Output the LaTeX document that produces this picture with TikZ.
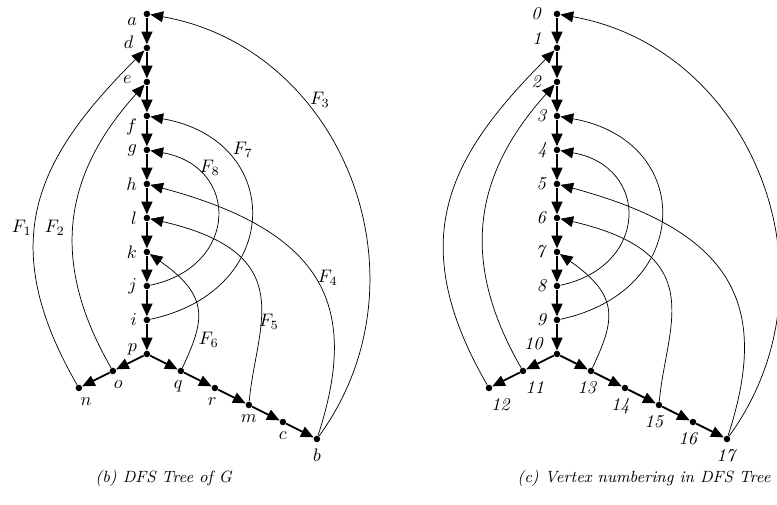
\documentclass[tikz,border=0pt]{standalone}
\usetikzlibrary{arrows.meta}

\tikzset{
  vtx/.style={circle,fill=black,inner sep=0pt,minimum size=3.6pt},
  tedge/.style={line width=1pt,-{Triangle[length=7pt,width=6pt]}},
  fedge/.style={thin,-{Triangle[length=7pt,width=6pt]}},
}

\begin{document}
\begin{tikzpicture}[x=0.66cm,y=0.66cm]
  \useasboundingbox (-4.32,-4.44) rectangle (18.53,10.41);

  % (b) DFS tree of G
  \node[vtx,label={[yshift=-4pt]left:$a$}] (a) at (0,10) {};
  \node[vtx,label={[xshift=-2pt,yshift=3pt]left:$d$}] (d) at (0,9) {};
  \node[vtx,label={[xshift=-3pt,yshift=1.5pt]left:$e$}] (e) at (0,8) {};
  \node[vtx,label={[yshift=-6pt]left:$f$}] (f) at (0,7) {};
  \node[vtx,label=left:$g$] (g) at (0,6) {};
  \node[vtx,label=left:$h$] (h) at (0,5) {};
  \node[vtx,label=left:$l$] (l) at (0,4) {};
  \node[vtx,label=left:$k$] (k) at (0,3) {};
  \node[vtx,label=left:$j$] (j) at (0,2) {};
  \node[vtx,label=left:$i$] (i) at (0,1) {};
  \node[vtx,label={[yshift=2.5pt]left:$p$}] (p) at (0,0) {};
  \node[vtx,label={[xshift=3pt]below:$o$}] (o) at (-1,-0.5) {};
  \node[vtx,label={[xshift=4pt]below:$n$}] (n) at (-2,-1) {};
  \node[vtx,label={[xshift=-1.5pt]below:$q$}] (q) at (1,-0.5) {};
  \node[vtx,label={[xshift=-1.5pt]below:$r$}] (r) at (2,-1) {};
  \node[vtx,label=below:$m$] (m) at (3,-1.5) {};
  \node[vtx,label=below:$c$] (c) at (4,-2) {};
  \node[vtx,label=below:$b$] (b) at (5,-2.5) {};

  \draw[tedge] (a) -- (d);
  \draw[tedge] (d) -- (e);
  \draw[tedge] (e) -- (f);
  \draw[tedge] (f) -- (g);
  \draw[tedge] (g) -- (h);
  \draw[tedge] (h) -- (l);
  \draw[tedge] (l) -- (k);
  \draw[tedge] (k) -- (j);
  \draw[tedge] (j) -- (i);
  \draw[tedge] (i) -- (p);
  \draw[tedge] (p) -- (o);
  \draw[tedge] (o) -- (n);
  \draw[tedge] (p) -- (q);
  \draw[tedge] (q) -- (r);
  \draw[tedge] (r) -- (m);
  \draw[tedge] (m) -- (c);
  \draw[tedge] (c) -- (b);

  % fronds
  \draw[fedge] (n) to[out=120,in=225,out looseness=1.25,in looseness=1.13] (d);
  \draw[fedge] (o) to[out=120,in=228,out looseness=1.13,in looseness=1.07] (e);
  \draw[fedge] (b) to[out=54,in=-10,looseness=1.1] (a);
  \draw[fedge] (b) to[out=72,in=-15,out looseness=1.13,in looseness=1.56] (h);
  \draw[fedge] (m) to[out=85,in=-13,out looseness=0.94,in looseness=1.92] (l);
  \draw[fedge] (q) to[out=65,in=-35,out looseness=1.12,in looseness=1.61] (k);
  \draw[fedge] (i) to[out=12,in=-10,looseness=1.73] (f);
  \draw[fedge] (j) to[out=12,in=-10,looseness=1.73] (g);

  \node at (-3.68,3.71) {$F_1$};
  \node at (-2.71,3.71) {$F_2$};
  \node at (5.09,7.47) {$F_3$};
  \node at (5.32,2.24) {$F_4$};
  \node at (3.59,0.94) {$F_5$};
  \node at (1.82,0.41) {$F_6$};
  \node at (2.82,6.0) {$F_7$};
  \node at (1.85,5.47) {$F_8$};

  % (c) vertex numbering
  \begin{scope}[shift={(12.06,0)}]
    \node[vtx,label={[xshift=-3pt]left:\textit{0}}] (v0) at (0,10) {};
    \node[vtx,label={[xshift=-3pt,yshift=5pt]left:\textit{1}}] (v1) at (0,9) {};
    \node[vtx,label={[xshift=-3pt]left:\textit{2}}] (v2) at (0,8) {};
    \node[vtx,label=left:\textit{3}] (v3) at (0,7) {};
    \node[vtx,label=left:\textit{4}] (v4) at (0,6) {};
    \node[vtx,label=left:\textit{5}] (v5) at (0,5) {};
    \node[vtx,label=left:\textit{6}] (v6) at (0,4) {};
    \node[vtx,label=left:\textit{7}] (v7) at (0,3) {};
    \node[vtx,label=left:\textit{8}] (v8) at (0,2) {};
    \node[vtx,label=left:\textit{9}] (v9) at (0,1) {};
    \node[vtx,label={[xshift=-2pt,yshift=5.5pt]left:\textit{10}}] (v10) at (0,0) {};
    \node[vtx,label={[xshift=6.5pt]below:\textit{11}}] (v11) at (-1,-0.5) {};
    \node[vtx,label={[xshift=6.5pt]below:\textit{12}}] (v12) at (-2,-1) {};
    \node[vtx,label={[xshift=-2pt]below:\textit{13}}] (v13) at (1,-0.5) {};
    \node[vtx,label={[xshift=-2.5pt]below:\textit{14}}] (v14) at (2,-1) {};
    \node[vtx,label={[xshift=-2.5pt]below:\textit{15}}] (v15) at (3,-1.5) {};
    \node[vtx,label={[xshift=-2.5pt]below:\textit{16}}] (v16) at (4,-2) {};
    \node[vtx,label=below:\textit{17}] (v17) at (5,-2.5) {};

    \draw[tedge] (v0) -- (v1);
    \draw[tedge] (v1) -- (v2);
    \draw[tedge] (v2) -- (v3);
    \draw[tedge] (v3) -- (v4);
    \draw[tedge] (v4) -- (v5);
    \draw[tedge] (v5) -- (v6);
    \draw[tedge] (v6) -- (v7);
    \draw[tedge] (v7) -- (v8);
    \draw[tedge] (v8) -- (v9);
    \draw[tedge] (v9) -- (v10);
    \draw[tedge] (v10) -- (v11);
    \draw[tedge] (v11) -- (v12);
    \draw[tedge] (v10) -- (v13);
    \draw[tedge] (v13) -- (v14);
    \draw[tedge] (v14) -- (v15);
    \draw[tedge] (v15) -- (v16);
    \draw[tedge] (v16) -- (v17);

    \draw[fedge] (v12) to[out=120,in=225,out looseness=1.25,in looseness=1.13] (v1);
    \draw[fedge] (v11) to[out=120,in=228,out looseness=1.13,in looseness=1.07] (v2);
    \draw[fedge] (v17) to[out=54,in=-10,looseness=1.1] (v0);
    \draw[fedge] (v17) to[out=72,in=-15,out looseness=1.13,in looseness=1.56] (v5);
    \draw[fedge] (v15) to[out=85,in=-13,out looseness=0.94,in looseness=1.92] (v6);
    \draw[fedge] (v13) to[out=65,in=-35,out looseness=1.12,in looseness=1.61] (v7);
    \draw[fedge] (v9) to[out=12,in=-10,looseness=1.73] (v3);
    \draw[fedge] (v8) to[out=12,in=-10,looseness=1.73] (v4);
  \end{scope}

  \node[font=\small] (capb) at (0.5,-3.65) {\textit{(b) DFS Tree of G}};
  \node[font=\small,anchor=east] (capc) at (18.53,-3.65) {\textit{(c) Vertex numbering in DFS Tree}};
\end{tikzpicture}
\end{document}
